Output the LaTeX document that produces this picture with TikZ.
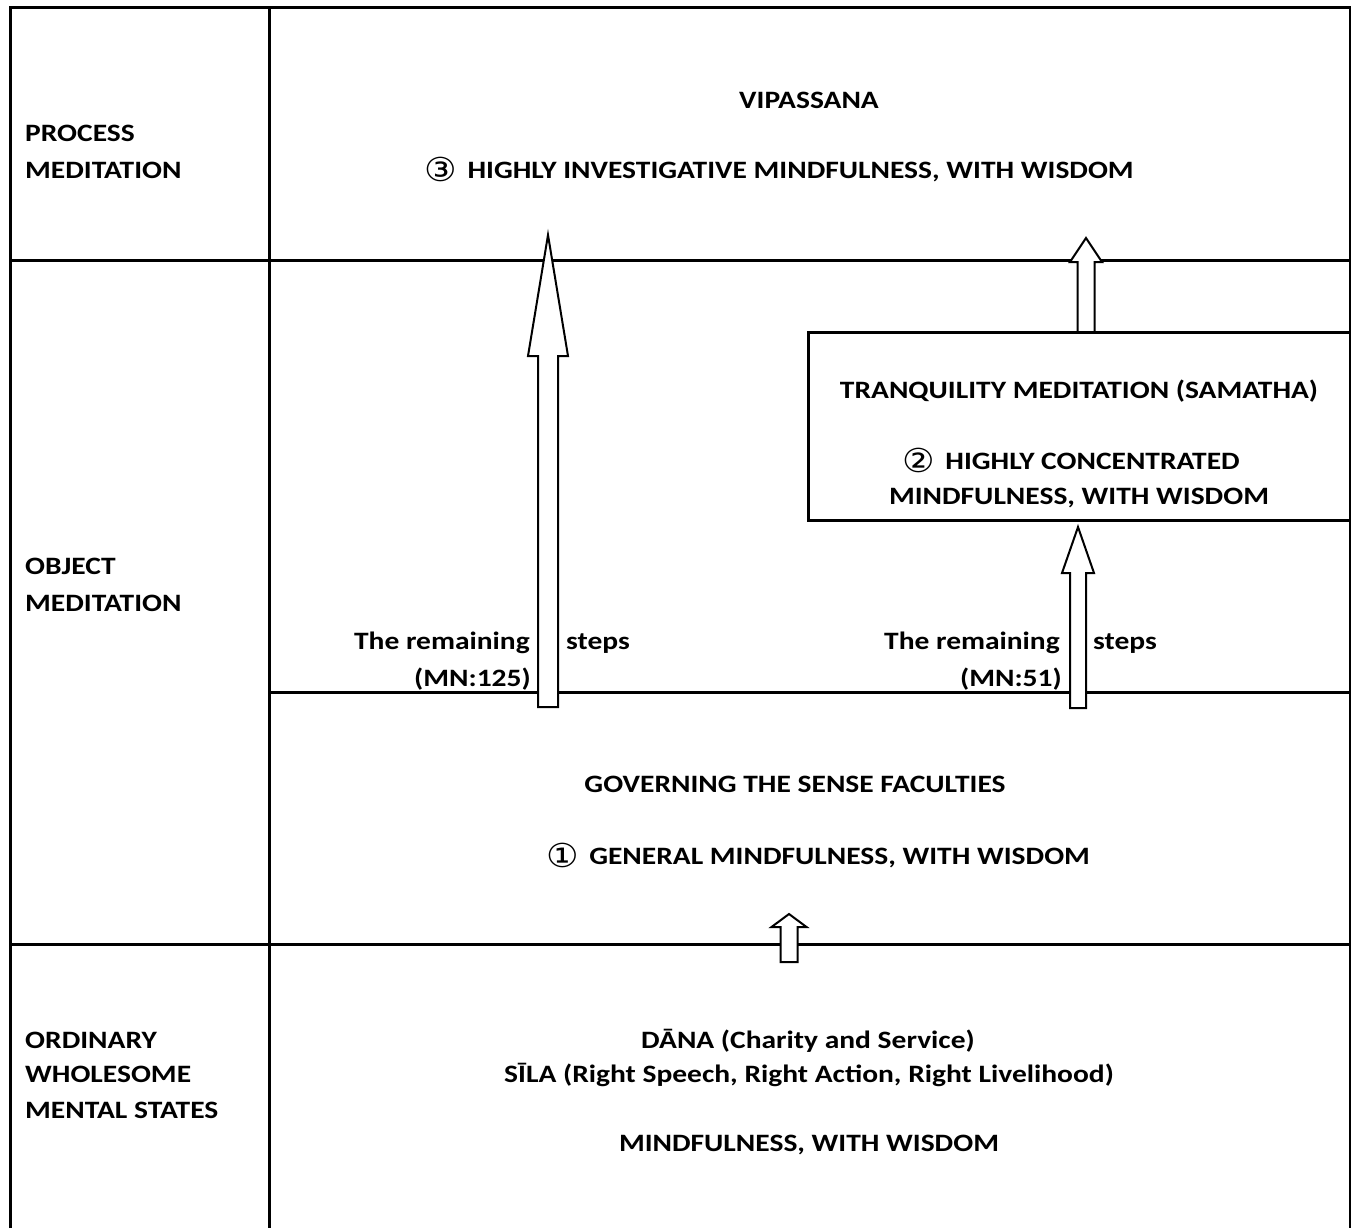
\documentclass[tikz,border=0pt]{standalone}
\usepackage{fontspec}
\setmainfont{Carlito}[FakeStretch=1.18]
\newfontfamily\circfont{DejaVu Sans}[FakeStretch=1.1]
\usetikzlibrary{calc}
\newcommand\circnum[1]{\raisebox{-3pt}{\circfont\mdseries\fontsize{33}{33}\selectfont #1}\hspace{4pt}}
\tikzset{
  rule/.style={line width=3pt},
  txt/.style={font=\fontsize{25}{30}\selectfont\bfseries, inner sep=0pt, anchor=base},
  hollow/.style={draw, line width=2pt, fill=white, line join=miter},
}
% foot, tip, shaft half width, head half width, head length
\newcommand\hollowarrow[5]{%
  \draw[hollow] let \p1=(#1), \p2=(#2) in
    (\x1-#3,\y1) -- (\x1-#3,\y2-#5) -- (\x1-#4,\y2-#5) -- (\p2)
    -- (\x1+#4,\y2-#5) -- (\x1+#3,\y2-#5) -- (\x1+#3,\y1) -- cycle;}
\begin{document}
\begin{tikzpicture}[x=1pt,y=-1pt]
  \useasboundingbox (0,0) rectangle (1351,1228);
  \draw[rule] (10,1228) -- (10,8) -- (1350,8) -- (1350,1228);
  \draw[rule] (269,8) -- (269,1228);
  \foreach \y in {260,944}
    \draw[rule] (10,\y) -- (1350,\y);
  \draw[rule] (269,692) -- (1350,692);
  \draw[rule] (808,332) rectangle (1350,520);

  \node[txt,anchor=base west] (procA) at (25,142) {PROCESS};
  \node[txt,anchor=base west] (procB) at (25,178) {MEDITATION};
  \node[txt,anchor=base west] (objA) at (25,574) {OBJECT};
  \node[txt,anchor=base west] (objB) at (25,611) {MEDITATION};
  \node[txt,anchor=base west] (ordA) at (25,1048) {ORDINARY};
  \node[txt,anchor=base west] (ordB) at (25,1082) {WHOLESOME};
  \node[txt,anchor=base west] (ordC) at (25,1118) {MENTAL STATES};

  \node[txt] (vip) at (809,109) {VIPASSANA};
  \node[txt] (vipB) at (779,178) {\circnum{③} HIGHLY INVESTIGATIVE MINDFULNESS, WITH WISDOM};
  \node[txt] (sam) at (1079,398) {TRANQUILITY MEDITATION (SAMATHA)};
  \node[txt] (samB) at (1071,469) {\circnum{②} HIGHLY CONCENTRATED};
  \node[txt] (samC) at (1079,504) {MINDFULNESS, WITH WISDOM};
  \node[txt] (gov) at (795,792) {GOVERNING THE SENSE FACULTIES};
  \node[txt] (govB) at (818,864) {\circnum{①} GENERAL MINDFULNESS, WITH WISDOM};
  \node[txt] (dana) at (808,1048) {DĀNA (Charity and Service)};
  \node[txt] (sila) at (809,1082) {SĪLA (Right Speech, Right Action, Right Livelihood)};
  \node[txt] (mind) at (809,1151) {MINDFULNESS, WITH WISDOM};

  \node[txt,anchor=base east] (remA) at (530,649) {The remaining};
  \node[txt,anchor=base east] (mnA) at (531,686) {(MN:125)};
  \node[txt,anchor=base west] (stepA) at (566,649) {steps};
  \node[txt,anchor=base east] (remB) at (1060,649) {The remaining};
  \node[txt,anchor=base east] (mnB) at (1062,686) {(MN:51)};
  \node[txt,anchor=base west] (stepB) at (1093,649) {steps};

  \coordinate (footA) at (548,707);
  \coordinate (tipA) at (548,235);
  \coordinate (footB) at (1086,332);
  \coordinate (tipB) at (1086,238);
  \coordinate (footC) at (1078,708);
  \coordinate (tipC) at (1078,527);
  \coordinate (footD) at (789,962);
  \coordinate (tipD) at (789,914);
  \hollowarrow{footA}{tipA}{10}{20}{121}
  \hollowarrow{footB}{tipB}{8.5}{16}{24}
  \hollowarrow{footC}{tipC}{8}{16}{46}
  \hollowarrow{footD}{tipD}{8.5}{17.5}{13}
\end{tikzpicture}
\end{document}
